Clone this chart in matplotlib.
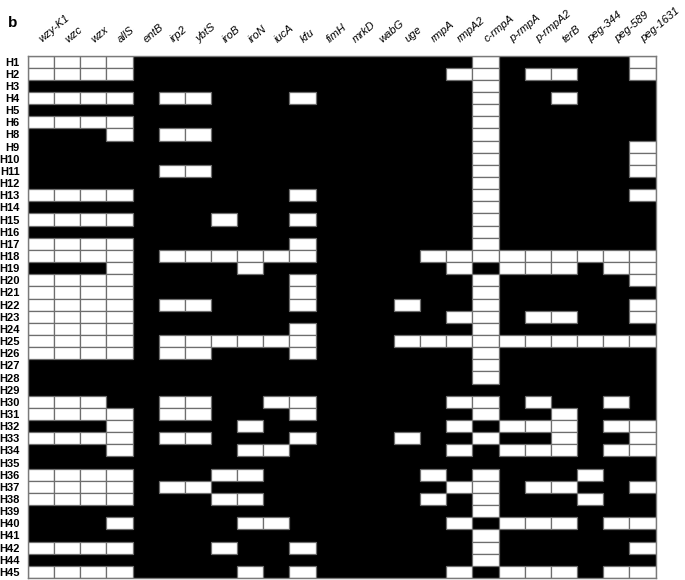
import matplotlib
matplotlib.use("Agg")
import matplotlib.pyplot as plt
from matplotlib.patches import Rectangle

plt.rcParams['font.family'] = ['Liberation Sans', 'DejaVu Sans']

genes = ["wzy-K1", "wzc", "wzx", "allS", "entB", "irp2", "ybtS", "iroB", "iroN",
         "iucA", "kfu", "fimH", "mrkD", "wabG", "uge", "rmpA", "rmpA2", "c-rmpA",
         "p-rmpA", "p-rmpA2", "terB", "peg-344", "peg-589", "peg-1631"]

strains = ["H1", "H2", "H3", "H4", "H5", "H6", "H8", "H9", "H10", "H11", "H12",
           "H13", "H14", "H15", "H16", "H17", "H18", "H19", "H20", "H21", "H22",
           "H23", "H24", "H25", "H26", "H27", "H28", "H29", "H30", "H31", "H32",
           "H33", "H34", "H35", "H36", "H37", "H38", "H39", "H40", "H41", "H42",
           "H44", "H45"]

# presence (1) / absence (0) per strain, gene order as in `genes`
presence = [
    "1111 0000 0000 0000 0100 0001",  # H1
    "1111 0000 0000 0000 1101 1001",  # H2
    "0000 0000 0000 0000 0100 0000",  # H3
    "1111 0110 0010 0000 0100 1000",  # H4
    "0000 0000 0000 0000 0100 0000",  # H5
    "1111 0000 0000 0000 0100 0000",  # H6
    "0001 0110 0000 0000 0100 0000",  # H8
    "0000 0000 0000 0000 0100 0001",  # H9
    "0000 0000 0000 0000 0100 0001",  # H10
    "0000 0110 0000 0000 0100 0001",  # H11
    "0000 0000 0000 0000 0100 0000",  # H12
    "1111 0000 0010 0000 0100 0001",  # H13
    "0000 0000 0000 0000 0100 0000",  # H14
    "1111 0001 0010 0000 0100 0000",  # H15
    "0000 0000 0000 0000 0100 0000",  # H16
    "1111 0000 0010 0000 0100 0000",  # H17
    "1111 0111 1110 0001 1111 1111",  # H18
    "0001 0000 1000 0000 1011 1011",  # H19
    "1111 0000 0010 0000 0100 0001",  # H20
    "1111 0000 0010 0000 0100 0000",  # H21
    "1111 0110 0010 0010 0100 0001",  # H22
    "1111 0000 0000 0000 1101 1001",  # H23
    "1111 0000 0010 0000 0100 0000",  # H24
    "1111 0111 1110 0011 1111 1111",  # H25
    "1111 0110 0010 0000 0100 0000",  # H26
    "0000 0000 0000 0000 0100 0000",  # H27
    "0000 0000 0000 0000 0100 0000",  # H28
    "0000 0000 0000 0000 0000 0000",  # H29
    "1110 0110 0110 0000 1101 0010",  # H30
    "1111 0110 0010 0000 0100 1000",  # H31
    "0001 0000 1000 0000 1011 1011",  # H32
    "1111 0110 0010 0010 0100 1001",  # H33
    "0001 0000 1100 0000 1011 1011",  # H34
    "0000 0000 0000 0000 0000 0000",  # H35
    "1111 0001 1000 0001 0100 0100",  # H36
    "1111 0110 0000 0000 1101 1001",  # H37
    "1111 0001 1000 0001 0100 0100",  # H38
    "0000 0000 0000 0000 0100 0000",  # H39
    "0001 0000 1100 0000 1011 1011",  # H40
    "0000 0000 0000 0000 0100 0000",  # H41
    "1111 0001 0010 0000 0100 0001",  # H42
    "0000 0000 0000 0000 0100 0000",  # H44
    "1111 0000 1010 0000 1011 1011",  # H45
]

W, H = 685, 580
fig = plt.figure(figsize=(W / 100, H / 100), dpi=100)
x0, x1, y0, y1 = 28, 655.5, 55.5, 578
ax = fig.add_axes([x0 / W, 1 - y1 / H, (x1 - x0) / W, (y1 - y0) / H])
ax.set_facecolor('black')
ax.set_xlim(0, len(genes))
ax.set_ylim(len(strains), 0)

for i, row in enumerate(presence):
    bits = row.replace(" ", "")
    for j, b in enumerate(bits):
        if b == "1":
            ax.add_patch(Rectangle((j, i), 1, 1, facecolor='white',
                                   edgecolor='#6e6e6e', linewidth=0.9))

ax.set_yticks([i + 0.5 for i in range(len(strains))])
ax.set_yticklabels(strains, fontsize=8, fontweight='bold')
ax.tick_params(axis='y', length=0, pad=6)

ax.xaxis.tick_top()
ax.set_xticks([j + 0.6 for j in range(len(genes))])
ax.set_xticklabels(genes, fontsize=8, style='italic', rotation=40,
                   ha='left', va='bottom', rotation_mode='anchor')
ax.tick_params(axis='x', length=0, pad=8)

for s in ax.spines.values():
    s.set_color('#7a7a7a')
    s.set_linewidth(1.0)

fig.text(8 / W, 1 - 27 / H, "b", fontsize=11, fontweight='bold')

fig.savefig("out.png", dpi=100)
